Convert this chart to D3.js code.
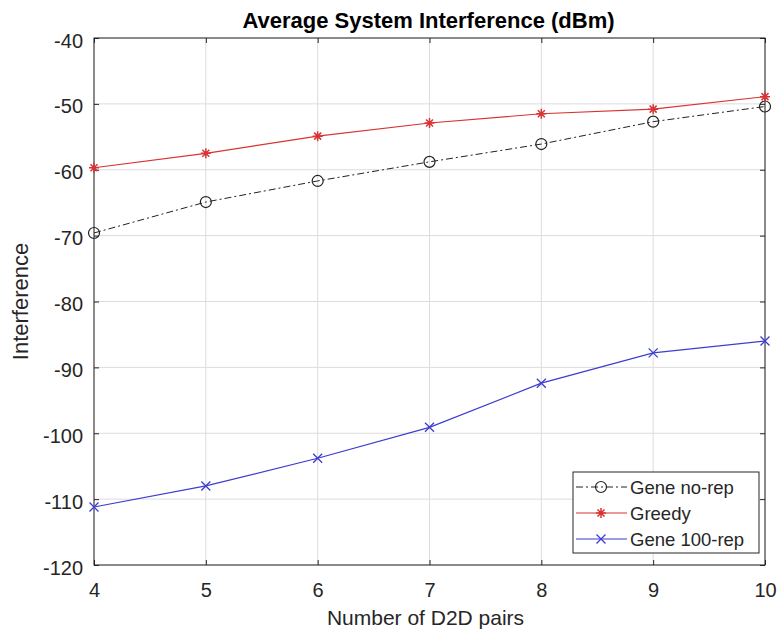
<!DOCTYPE html>
<html>
<head>
<meta charset="utf-8">
<script src="https://d3js.org/d3.v7.min.js"></script>
<style>
  body { margin: 0; background: #fff; }
  text { font-family: "Liberation Sans", Arial, sans-serif; }
  .tick text { fill: #262626; font-size: 20px; }
  .grid line { stroke: #dcdcdc; stroke-width: 1; }
</style>
</head>
<body>
<script>
// data
var pairs = [4, 5, 6, 7, 8, 9, 10];
var geneNoRep = [-69.6, -64.9, -61.7, -58.8, -56.1, -52.7, -50.4];
var greedy = [-59.7, -57.5, -54.9, -52.9, -51.5, -50.8, -48.9];
var gene100Rep = [-111.2, -108.0, -103.8, -99.1, -92.4, -87.8, -86.0];
var yTicks = [-120, -110, -100, -90, -80, -70, -60, -50, -40];

var w = 777, h = 633;
// plot box edges (window.top is reserved, so use own names)
var pl = 94, pr = 765, pt = 38, pb = 565;

var svg = d3.select("body").append("svg")
  .attr("width", w)
  .attr("height", h);

var x = d3.scaleLinear().domain([4, 10]).range([pl, pr]);
var y = d3.scaleLinear().domain([-120, -40]).range([pb, pt]);

// grid
svg.append("g").attr("class", "grid")
  .selectAll("line").data(pairs).enter().append("line")
  .attr("x1", d => x(d)).attr("x2", d => x(d))
  .attr("y1", pt).attr("y2", pb);
svg.append("g").attr("class", "grid")
  .selectAll("line").data(yTicks).enter().append("line")
  .attr("x1", pl).attr("x2", pr)
  .attr("y1", d => y(d)).attr("y2", d => y(d));

// axes, ticks point inward like matlab
svg.append("g")
  .attr("transform", "translate(0," + pb + ")")
  .call(d3.axisBottom(x).tickValues(pairs).tickSize(-5).tickPadding(18).tickFormat(d3.format("d")))
  .call(g => g.select(".domain").remove());
svg.append("g")
  .attr("transform", "translate(0," + pt + ")")
  .call(d3.axisTop(x).tickValues(pairs).tickSize(-5).tickFormat(""))
  .call(g => g.select(".domain").remove());
svg.append("g")
  .attr("transform", "translate(" + pl + ",0)")
  .call(d3.axisLeft(y).tickValues(yTicks).tickSize(-5).tickPadding(11))
  .call(g => g.select(".domain").remove())
  .selectAll(".tick text").attr("dy", "0.45em");
svg.append("g")
  .attr("transform", "translate(" + pr + ",0)")
  .call(d3.axisRight(y).tickValues(yTicks).tickSize(-5).tickFormat(""))
  .call(g => g.select(".domain").remove());
svg.selectAll(".tick line").attr("stroke", "#262626");
svg.selectAll(".tick text").text(function() { return d3.select(this).text().replace("−", "-"); });

// box
svg.append("rect")
  .attr("x", pl).attr("y", pt)
  .attr("width", pr - pl).attr("height", pb - pt)
  .attr("fill", "none").attr("stroke", "#262626").attr("stroke-width", 1);

var line = d3.line().x((d, i) => x(pairs[i])).y(d => y(d));

// marker drawing
function circleMark(g, cx, cy, col) {
  g.append("circle").attr("cx", cx).attr("cy", cy).attr("r", 5.5)
    .attr("fill", "none").attr("stroke", col).attr("stroke-width", 1.2);
}
function starMark(g, cx, cy, col) {
  var s = 5;
  var p = "M" + (cx - s) + "," + cy + "H" + (cx + s) +
          "M" + cx + "," + (cy - s) + "V" + (cy + s) +
          "M" + (cx - s * 0.7) + "," + (cy - s * 0.7) + "L" + (cx + s * 0.7) + "," + (cy + s * 0.7) +
          "M" + (cx - s * 0.7) + "," + (cy + s * 0.7) + "L" + (cx + s * 0.7) + "," + (cy - s * 0.7);
  g.append("path").attr("d", p).attr("stroke", col).attr("stroke-width", 1.5).attr("fill", "none");
}
function xMark(g, cx, cy, col) {
  var s = 4.5;
  var p = "M" + (cx - s) + "," + (cy - s) + "L" + (cx + s) + "," + (cy + s) +
          "M" + (cx - s) + "," + (cy + s) + "L" + (cx + s) + "," + (cy - s);
  g.append("path").attr("d", p).attr("stroke", col).attr("stroke-width", 1.3).attr("fill", "none");
}

var series = [
  { name: "Gene no-rep", values: geneNoRep, color: "#222222", dash: "7,3,2,3", mark: circleMark, width: 1 },
  { name: "Greedy", values: greedy, color: "#d93333", dash: null, mark: starMark, width: 1.2 },
  { name: "Gene 100-rep", values: gene100Rep, color: "#3d3dd0", dash: null, mark: xMark, width: 1.2 }
];

series.forEach(function(s) {
  svg.append("path")
    .datum(s.values)
    .attr("d", line)
    .attr("fill", "none")
    .attr("stroke", s.color)
    .attr("stroke-width", s.width)
    .attr("stroke-dasharray", s.dash);
  var g = svg.append("g");
  s.values.forEach(function(v, i) { s.mark(g, x(pairs[i]), y(v), s.color); });
});

// legend
var lg = svg.append("g").attr("transform", "translate(573,472)");
lg.append("rect").attr("width", 186).attr("height", 81)
  .attr("fill", "#fff").attr("stroke", "#262626").attr("stroke-width", 1);
series.forEach(function(s, i) {
  var ly = 15 + i * 26;
  lg.append("line").attr("x1", 3).attr("x2", 54).attr("y1", ly).attr("y2", ly)
    .attr("stroke", s.color).attr("stroke-width", s.width).attr("stroke-dasharray", s.dash);
  s.mark(lg, 28, ly, s.color);
  lg.append("text").attr("x", 57).attr("y", ly + 6.5)
    .attr("font-size", "18.5px").attr("fill", "#262626").text(s.name);
});

// title and labels
svg.append("text")
  .attr("x", (pl + pr) / 2 - 1).attr("y", 28)
  .attr("text-anchor", "middle")
  .attr("font-size", "22px").attr("font-weight", "bold").attr("fill", "#000")
  .text("Average System Interference (dBm)");

svg.append("text")
  .attr("x", (pl + pr) / 2 - 4).attr("y", 625)
  .attr("text-anchor", "middle")
  .attr("font-size", "21px").attr("fill", "#262626")
  .text("Number of D2D pairs");

svg.append("text")
  .attr("transform", "rotate(-90)")
  .attr("x", -(pt + pb) / 2).attr("y", 28)
  .attr("text-anchor", "middle")
  .attr("font-size", "22px").attr("fill", "#262626")
  .text("Interference");
</script>
</body>
</html>
